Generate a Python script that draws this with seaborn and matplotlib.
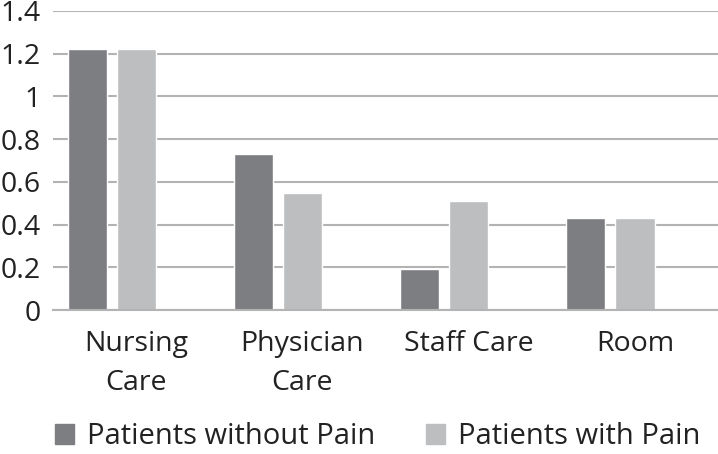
import matplotlib
matplotlib.use("Agg")
import matplotlib.pyplot as plt
import seaborn as sns
import pandas as pd
import numpy as np

# data
categories = ["Nursing\nCare", "Physician\nCare", "Staff Care", "Room"]
without_pain = [1.22, 0.73, 0.19, 0.43]
with_pain = [1.22, 0.55, 0.51, 0.43]
series = ["Patients without Pain", "Patients with Pain", ""]
colors = ["#7d7e82", "#bdbec0", "#ffffff"]

# third (empty) series keeps the Excel-style offset of the two real bars
df = pd.DataFrame({
    "cat": categories * 3,
    "val": without_pain + with_pain + [np.nan] * 4,
    "series": [series[0]] * 4 + [series[1]] * 4 + [series[2]] * 4,
})

sns.set_style("white")
plt.rcParams["font.family"] = ["Open Sans", "DejaVu Sans"]

fig = plt.figure(figsize=(7.18, 4.54), dpi=100)
ax = fig.add_axes([0.074, 0.317, 0.926, 0.659])

sns.barplot(data=df, x="cat", y="val", hue="series", palette=colors,
            width=0.885, gap=0.2, saturation=1, errorbar=None, ax=ax,
            legend=False)

ax.set_ylim(0, 1.4)
ax.set_xlim(-0.5, 3.5)
ticks = np.arange(0, 1.41, 0.2)
ax.set_yticks(ticks)
ax.set_yticklabels(["0", "0.2", "0.4", "0.6", "0.8", "1", "1.2", "1.4"])
ax.yaxis.grid(True, color="#b3b3b3", linewidth=1.5)
ax.set_axisbelow(True)
for s in ["left", "right", "top"]:
    ax.spines[s].set_visible(False)
ax.spines["bottom"].set_color("#b3b3b3")
ax.spines["bottom"].set_linewidth(1.5)
ax.tick_params(axis="both", length=0, labelsize=20.5, colors="#222222")
ax.tick_params(axis="y", pad=9)
ax.tick_params(axis="x", pad=14)
for lbl in ax.get_xticklabels():
    lbl.set_linespacing(1.55)
ax.set_xlabel("")
ax.set_ylabel("")

handles = [plt.Rectangle((0, 0), 1, 1, color=c) for c in colors[:2]]
fig.legend(handles, series[:2], loc="center", bbox_to_anchor=(0.526, 0.038),
           ncol=2, frameon=False, fontsize=21, handlelength=0.65, handleheight=0.65,
           columnspacing=1.75, handletextpad=0.45, labelcolor="#222222",
           borderpad=0.2)

fig.savefig("out.png", dpi=100)
